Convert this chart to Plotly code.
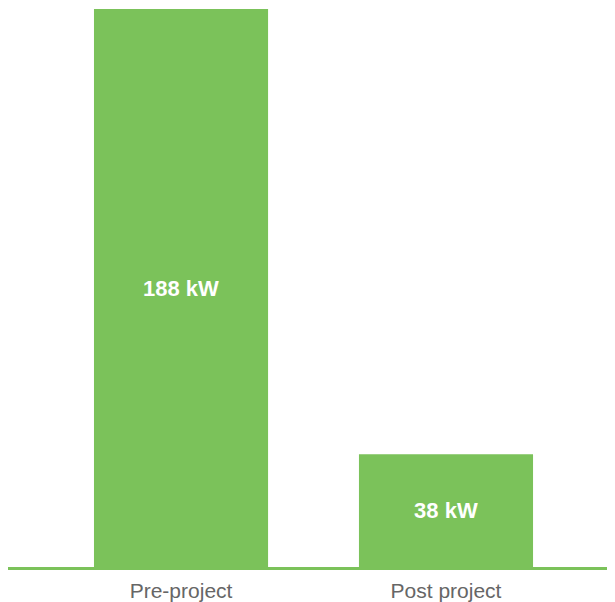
import plotly.graph_objects as go

categories = ["Pre-project", "Post project"]
values = [188, 38]
labels = ["188 kW", "38 kW"]

green = "#7BC25A"

fig = go.Figure(go.Bar(
    x=categories,
    y=values,
    text=labels,
    textposition="inside",
    insidetextanchor="middle",
    textfont=dict(family="Liberation Sans", size=22, color="white", weight="bold"),
    marker=dict(color=green, line=dict(width=0)),
    width=0.657,
    hoverinfo="skip",
))

# the page body adds an 8px offset; figure sized to fill the remaining window
fig.update_layout(
    width=615, height=594,
    margin=dict(l=0, r=0, t=1, b=35),
    paper_bgcolor="white",
    plot_bgcolor="white",
    showlegend=False,
    uniformtext=dict(mode=False),
    xaxis=dict(
        type="category",
        range=[-0.653, 1.668],
        showline=True, linecolor=green, linewidth=3,
        showgrid=False, zeroline=False, ticks="",
        tickfont=dict(family="Liberation Sans", size=21, color="#666666"),
        ticklabelstandoff=3,
    ),
    yaxis=dict(
        range=[0, 188],
        visible=False,
        showgrid=False, zeroline=False,
    ),
)

fig.write_html("out.html")
